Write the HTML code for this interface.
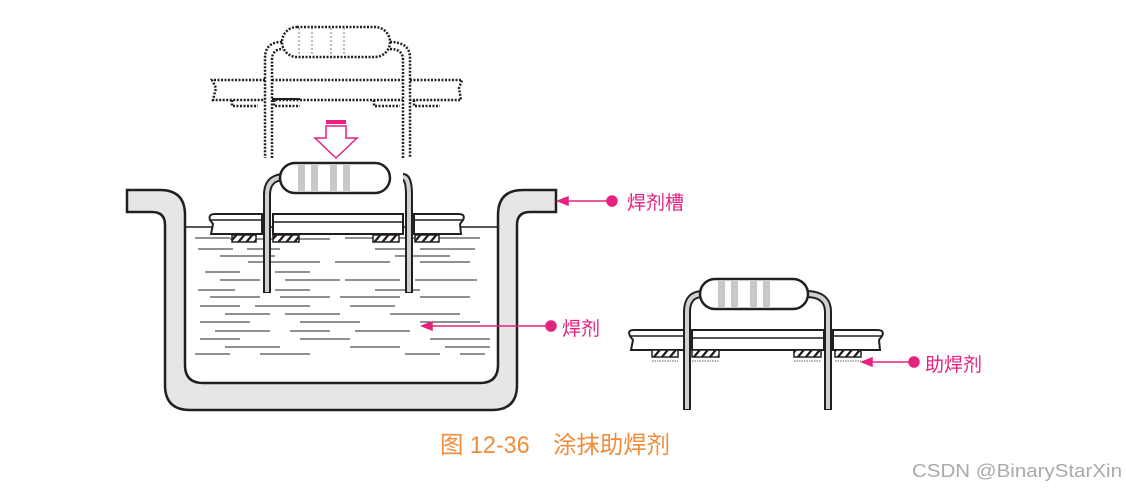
<!DOCTYPE html>
<html><head><meta charset="utf-8"><style>
html,body{margin:0;padding:0;background:#fff;width:1126px;height:489px;overflow:hidden}
svg{display:block}
text{font-family:"Liberation Sans","Noto Sans CJK SC",sans-serif}
</style></head><body>
<svg width="1126" height="489" viewBox="0 0 1126 489" xmlns="http://www.w3.org/2000/svg">
<defs>
<pattern id="hatch" width="8" height="6" patternUnits="userSpaceOnUse" patternTransform="skewX(-40)">
<rect width="8" height="6" fill="#fff"/><rect x="0" width="3" height="6" fill="#231f20"/>
</pattern>
</defs>
<path d="M127 190 H160 Q185 190 185 215 V365 Q185 383 203 383 H480 Q498 383 498 365 V215 Q498 190 523 190 H556 V212 H530 Q517 212 517 225 V385 Q517 410 492 410 H190 Q165 410 165 385 V225 Q165 212 152 212 H127 Z" fill="#e6e6e7" stroke="#231f20" stroke-width="2.5"/>
<line x1="186" y1="227" x2="497" y2="227" stroke="#231f20" stroke-width="1.5"/>
<g stroke="#231f20" stroke-width="1">
<line x1="195" y1="238" x2="230" y2="238"/><line x1="230" y1="239" x2="330" y2="239"/><line x1="345" y1="238" x2="480" y2="238"/>
<line x1="198" y1="249" x2="233" y2="249"/><line x1="247" y1="249" x2="280" y2="249"/><line x1="375" y1="249" x2="410" y2="249"/><line x1="420" y1="249" x2="475" y2="249"/>
<line x1="220" y1="256" x2="275" y2="256"/><line x1="395" y1="256" x2="450" y2="256"/>
<line x1="248" y1="262" x2="320" y2="262"/><line x1="335" y1="262" x2="390" y2="262"/><line x1="420" y1="262" x2="470" y2="262"/>
<line x1="205" y1="272" x2="240" y2="272"/><line x1="275" y1="272" x2="310" y2="272"/>
<line x1="220" y1="280" x2="260" y2="280"/><line x1="285" y1="280" x2="340" y2="280"/><line x1="345" y1="280" x2="400" y2="280"/><line x1="415" y1="280" x2="477" y2="280"/>
<line x1="198" y1="290" x2="235" y2="290"/><line x1="275" y1="290" x2="310" y2="290"/><line x1="375" y1="290" x2="420" y2="290"/>
<line x1="210" y1="297" x2="260" y2="297"/><line x1="280" y1="297" x2="330" y2="297"/><line x1="340" y1="297" x2="400" y2="297"/><line x1="420" y1="297" x2="470" y2="297"/>
<line x1="200" y1="306" x2="240" y2="306"/><line x1="255" y1="306" x2="310" y2="306"/><line x1="350" y1="306" x2="395" y2="306"/>
<line x1="225" y1="314" x2="270" y2="314"/><line x1="285" y1="314" x2="340" y2="314"/><line x1="390" y1="314" x2="460" y2="314"/>
<line x1="200" y1="322" x2="250" y2="322"/><line x1="300" y1="322" x2="360" y2="322"/><line x1="420" y1="322" x2="480" y2="322"/>
<line x1="215" y1="331" x2="270" y2="331"/><line x1="290" y1="331" x2="330" y2="331"/><line x1="355" y1="331" x2="410" y2="331"/>
<line x1="200" y1="339" x2="240" y2="339"/><line x1="300" y1="339" x2="350" y2="339"/><line x1="430" y1="339" x2="490" y2="339"/>
<line x1="225" y1="347" x2="280" y2="347"/><line x1="350" y1="347" x2="400" y2="347"/><line x1="445" y1="347" x2="490" y2="347"/>
<line x1="195" y1="354" x2="230" y2="354"/><line x1="260" y1="354" x2="310" y2="354"/><line x1="405" y1="354" x2="440" y2="354"/><line x1="460" y1="354" x2="485" y2="354"/>
</g>
<g stroke="#231f20" stroke-width="2" fill="#fff">
<path d="M262 214 H215 Q208 214 210 220 L213 224 L211 234 H262 Z"/>
<rect x="273" y="214" width="130" height="20"/>
<path d="M414 214 H458 Q466 214 463 220 L460 224 L461 234 H414 Z"/>
<rect x="232" y="235" width="24" height="7" fill="url(#hatch)" stroke-width="1.5"/>
<rect x="273" y="235" width="26" height="7" fill="url(#hatch)" stroke-width="1.5"/>
<rect x="373" y="235" width="26" height="7" fill="url(#hatch)" stroke-width="1.5"/>
<rect x="415" y="235" width="24" height="7" fill="url(#hatch)" stroke-width="1.5"/>
</g>
<line x1="210" y1="220" x2="262" y2="220" stroke="#231f20" stroke-width="1.5"/>
<line x1="273" y1="222" x2="403" y2="222" stroke="#231f20" stroke-width="1.5"/>
<line x1="414" y1="220" x2="463" y2="220" stroke="#231f20" stroke-width="1.5"/>
<path d="M285 177 Q267 177 267 195 V293 M403 177 Q409 177 409 195 V293" fill="none" stroke="#231f20" stroke-width="8"/>
<path d="M285 177 Q267 177 267 195 V292 M403 177 Q409 177 409 195 V292" fill="none" stroke="#d0d0d0" stroke-width="4"/>
<rect x="280" y="163" width="110" height="30" rx="15" fill="#fff" stroke="#231f20" stroke-width="2.5"/>
<g fill="#c8c8c8"><rect x="298" y="164" width="7" height="28"/><rect x="311" y="164" width="7" height="28"/><rect x="330" y="164" width="7" height="28"/><rect x="343" y="164" width="7" height="28"/></g>
<g fill="none" stroke="#231f20" stroke-width="2.5" stroke-dasharray="2 1.5">
<rect x="282" y="27" width="108" height="30" rx="15"/>
<path d="M282 42 Q265 42 265 58 V158 M272 158 V60 Q272 49 283 49"/>
<path d="M390 42 Q410 42 410 58 V158 M403 158 V60 Q403 49 390 49"/>
<path d="M265 80 H212 L216 88 L213 100 H265 M272 80 H403 M272 100 H403 M410 80 H462 L459 88 L461 100 H410"/>
<path d="M232 100 V106 H258 M274 100 V106 H300 M374 100 V106 H400 M414 100 V106 H440"/>
</g>
<g stroke="#bbb" stroke-width="2" stroke-dasharray="2 2"><line x1="299" y1="28" x2="299" y2="56"/><line x1="312" y1="28" x2="312" y2="56"/><line x1="331" y1="28" x2="331" y2="56"/><line x1="344" y1="28" x2="344" y2="56"/></g>
<line x1="272" y1="99" x2="300" y2="99" stroke="#231f20" stroke-width="2"/>
<rect x="326" y="120" width="20" height="4" fill="#e5227f"/>
<path d="M326 126 H346 V138 H357 L336 158 L315 138 H326 Z" fill="#fff" stroke="#e5227f" stroke-width="1.5"/>
<g stroke="#231f20" stroke-width="2" fill="#fff">
<path d="M684 330 H634 Q627 330 630 336 L633 340 L631 350 H684 Z"/>
<rect x="692" y="330" width="132" height="20"/>
<path d="M833 330 H877 Q885 330 882 336 L879 340 L880 350 H833 Z"/>
<rect x="652" y="350" width="26" height="7" fill="url(#hatch)" stroke-width="1.5"/>
<rect x="692" y="350" width="27" height="7" fill="url(#hatch)" stroke-width="1.5"/>
<rect x="794" y="350" width="27" height="7" fill="url(#hatch)" stroke-width="1.5"/>
<rect x="835" y="350" width="26" height="7" fill="url(#hatch)" stroke-width="1.5"/>
</g>
<g stroke="#999" stroke-width="1.5" stroke-dasharray="1.5 1"><line x1="652" y1="361" x2="678" y2="361"/><line x1="692" y1="361" x2="719" y2="361"/><line x1="794" y1="361" x2="821" y2="361"/><line x1="835" y1="361" x2="861" y2="361"/></g>
<line x1="630" y1="336" x2="684" y2="336" stroke="#231f20" stroke-width="1.5"/>
<line x1="692" y1="338" x2="824" y2="338" stroke="#231f20" stroke-width="1.5"/>
<line x1="833" y1="336" x2="882" y2="336" stroke="#231f20" stroke-width="1.5"/>
<path d="M703 294 Q687 294 687 312 V410 M806 294 Q828 294 828 312 V410" fill="none" stroke="#231f20" stroke-width="8"/>
<path d="M703 294 Q687 294 687 312 V409 M806 294 Q828 294 828 312 V409" fill="none" stroke="#d0d0d0" stroke-width="4"/>
<rect x="700" y="279" width="108" height="30" rx="15" fill="#fff" stroke="#231f20" stroke-width="2.5"/>
<g fill="#c8c8c8"><rect x="718" y="280" width="7" height="28"/><rect x="731" y="280" width="7" height="28"/><rect x="750" y="280" width="7" height="28"/><rect x="763" y="280" width="7" height="28"/></g>
<g stroke="#e5227f" stroke-width="1.5" fill="#e5227f">
<line x1="566" y1="201" x2="612" y2="201"/><path d="M558 201 L568 197 L568 205 Z"/><circle cx="612" cy="201" r="5"/>
<line x1="430" y1="326" x2="551" y2="326"/><path d="M422 326 L432 322 L432 330 Z"/><circle cx="551" cy="326" r="5"/>
<line x1="870" y1="362" x2="914" y2="362"/><path d="M862 362 L872 358 L872 366 Z"/><circle cx="914" cy="362" r="5"/>
</g>
<g fill="#e5227f" font-size="19">
<text x="627" y="209">焊剂槽</text>
<text x="562" y="335">焊剂</text>
<text x="925" y="371">助焊剂</text>
</g>
<text x="440" y="453" font-size="24" fill="#f08c3c" textLength="230" lengthAdjust="spacingAndGlyphs">图 12-36　涂抹助焊剂</text>
<text x="912" y="477" font-size="18" fill="#aaa" textLength="210" lengthAdjust="spacingAndGlyphs">CSDN @BinaryStarXin</text>
</svg>
</body></html>
